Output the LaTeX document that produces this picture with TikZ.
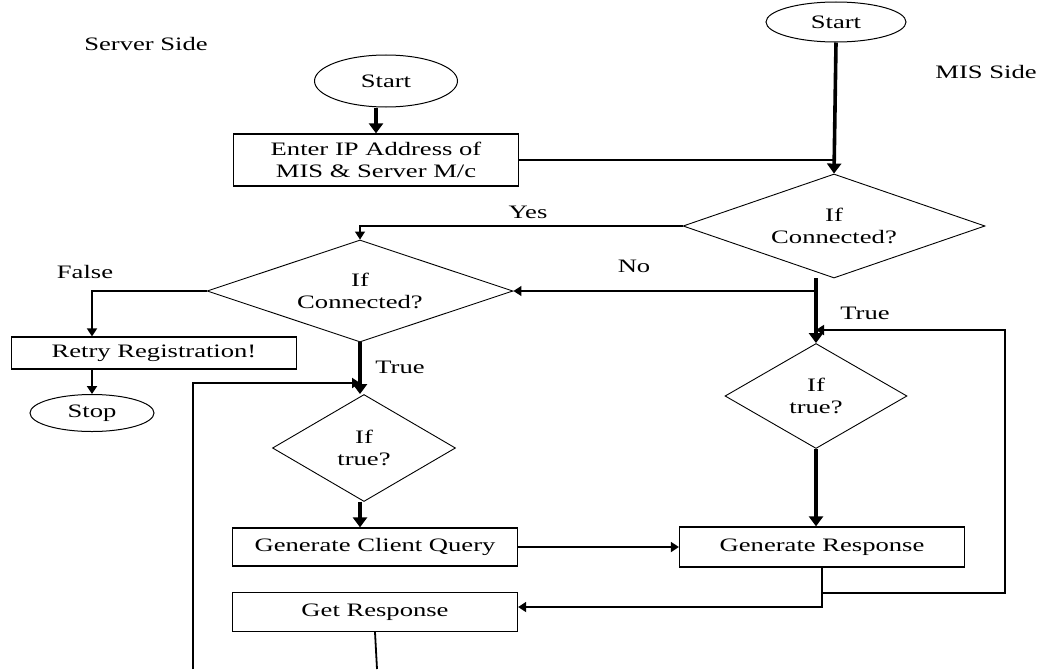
\documentclass[tikz,border=0pt]{standalone}
\usepackage{fontspec}
\setmainfont[FakeStretch=1.4]{Liberation Serif}
\usetikzlibrary{shapes.geometric,arrows.meta}
\begin{document}
\begin{tikzpicture}[x=1pt,y=-1pt,
  every node/.style={font=\fontsize{19}{22}\selectfont, inner sep=0pt},
  procbox/.style={draw, line width=1.3pt, minimum width=285pt, align=center},
  term/.style={draw, ellipse, line width=1pt},
  decide/.style={draw, diamond, line width=0.9pt, align=center},
  lbl/.style={},
  arr/.style={-{Triangle[length=8pt,width=10pt]}},
  arrbig/.style={-{Triangle[length=10pt,width=14pt]}},
  thickln/.style={line width=3.6pt},
  medln/.style={line width=1.8pt},
  thinln/.style={line width=1.1pt}
]
\useasboundingbox (0,0) rectangle (1048,669);

% labels
\node[lbl] (server) at (146,44) {Server Side};
\node[lbl] (mis) at (986,72) {MIS Side};

% left column
\node[term, minimum width=143pt, minimum height=52pt] (lstart) at (386,81) {Start};
\node[procbox, minimum height=52pt] (enter) at (376,160) {Enter IP Address of\\MIS \& Server M/c};
\node[decide, aspect=3, minimum width=306pt, minimum height=102pt] (ldia) at (360,291) {If\\Connected?};
\node[decide, aspect=1.7, minimum width=183pt, minimum height=107pt] (ldia2) at (364,448) {If\\true?};
\node[procbox, minimum height=38pt] (gquery) at (375,547) {Generate Client Query};
\node[procbox, minimum height=39pt] (getresp) at (375,612) {Get Response};
\node[procbox, minimum height=32pt] (retry) at (154,353) {Retry Registration!};
\node[term, minimum width=124pt, minimum height=37pt] (stop) at (92,413) {Stop};

% right column
\node[term, minimum width=140pt, minimum height=40pt] (rstart) at (836,22) {Start};
\node[decide, aspect=3, minimum width=302pt, minimum height=104pt] (rdia) at (834,226) {If\\Connected?};
\node[decide, aspect=1.7, minimum width=182pt, minimum height=105pt] (rdia2) at (816,396) {If\\true?};
\node[procbox, minimum height=40pt] (gresp) at (822,547) {Generate Response};

% edge labels
\node[lbl] (yes) at (528,212) {Yes};
\node[lbl] (no) at (634,266) {No};
\node[lbl] (ltrue) at (400,367) {True};
\node[lbl] (rtrue) at (865,313) {True};
\node[lbl] (false) at (85,272) {False};

% helper coordinates
\coordinate (lloopB) at (193,669);
\coordinate (lloopT) at (193,383);
\coordinate (rloopB) at (1005,593);
\coordinate (rloopT) at (1005,330);
\coordinate (getB) at (377,669);

% connectors
\draw[thickln,arrbig] (enter.north |- lstart.south) -- (enter.north);
\draw[thickln,arrbig] (rstart.south) -- (rdia.north);
\draw[thinln] (enter.east) -- (enter.east -| rstart.south);
\draw[thinln,arr] (rdia.west) -| (ldia.north);
\draw[thickln,arrbig] (rdia2.north |- rdia.south) -- (rdia2.north);
\draw[thinln,arr] (rdia2.north |- ldia.east) -- (ldia.east);
\draw[medln,arr] (ldia.west) -| (stop.north |- retry.north);
\draw[medln,arr] (stop.north |- retry.south) -- (stop.north);
\draw[thickln,arrbig] (ldia.south) -- (ldia.south |- ldia2.north);
\draw[thickln,arrbig] (ldia.south |- ldia2.south) -- (ldia.south |- gquery.north);
\draw[thickln,arrbig] (rdia2.south) -- (rdia2.south |- gresp.north);
\draw[medln,arr] (gquery.east) -- (gquery.east -| gresp.west);
\draw[medln,arr] (gresp.south) |- ([yshift=5pt]getresp.east);
\draw[medln,arr] (gresp.south |- rloopB) -- (rloopB) -- (rloopT) -- (rloopT -| rdia2.north);
\draw[medln,arr] (lloopB) -- (lloopT) -- (lloopT -| ldia.south);
\draw[medln] (getresp.south) -- (getB);
\end{tikzpicture}
\end{document}
